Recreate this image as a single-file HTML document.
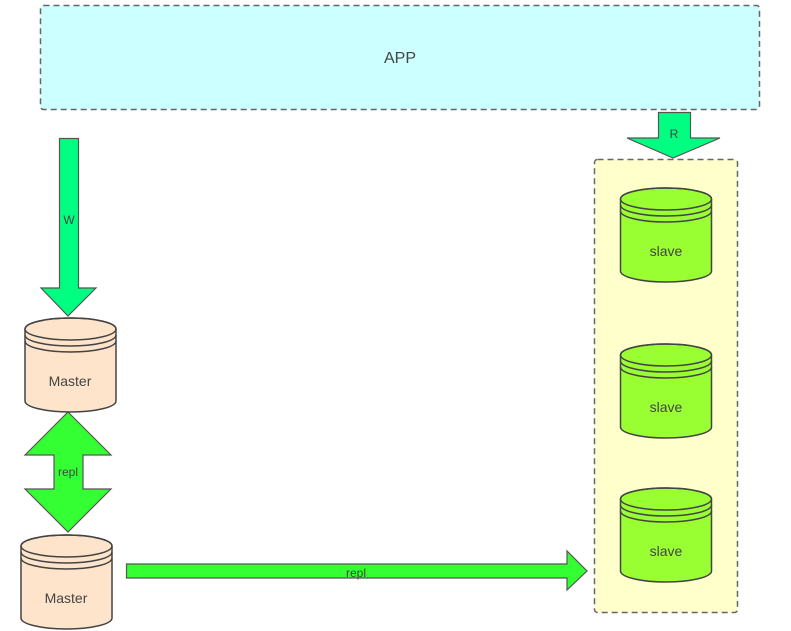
<!DOCTYPE html>
<html><head><meta charset="utf-8"><style>
html,body{margin:0;padding:0;background:#fff;width:791px;height:631px;overflow:hidden}
svg{display:block}
text{font-family:"Liberation Sans",sans-serif;fill:#444}
</style></head><body>
<svg width="791" height="631" viewBox="0 0 791 631" xmlns="http://www.w3.org/2000/svg">
<defs>
<g id="cyl">
<path d="M0,11 A45.5,11 0 0 1 91,11 V83 A45.5,11 0 0 1 0,83 Z" stroke="#444" stroke-width="1.5"/>
<ellipse cx="45.5" cy="11" rx="45.5" ry="11" stroke="#444" stroke-width="1.5" fill="none"/>
<path d="M0,17 A45.5,11 0 0 0 91,17 M0,23 A45.5,11 0 0 0 91,23" stroke="#444" stroke-width="1.5" fill="none"/>
</g>
</defs>
<rect x="40.5" y="5.5" width="719" height="104" rx="3" fill="#ccffff" stroke="#666" stroke-width="1.5" stroke-dasharray="6,4"/>
<text x="400" y="63" font-size="16" text-anchor="middle">APP</text>
<rect x="594.5" y="159.5" width="143" height="453" rx="3" fill="#ffffcc" stroke="#666" stroke-width="1.5" stroke-dasharray="6,4"/>
<!-- W arrow -->
<path d="M59.5,138.5 H78.5 V288 H96 L68,316 L41,288 H59.5 Z" fill="#00ff80" stroke="#555" stroke-width="1.2"/>
<text x="69" y="224" font-size="12" text-anchor="middle">W</text>
<!-- R arrow -->
<path d="M658.5,112.5 H690.5 V138 H720 L673,158 L627,138 H658.5 Z" fill="#00ff80" stroke="#555" stroke-width="1.2"/>
<text x="674" y="138" font-size="12" text-anchor="middle">R</text>
<!-- double arrow -->
<path d="M68,412 L111,455 H83 V489 H111 L68,532 L25,489 H54 V455 H25 Z" fill="#33ff33" stroke="#555" stroke-width="1.2"/>
<text x="68" y="476" font-size="12" text-anchor="middle">repl</text>
<!-- horizontal repl arrow -->
<path d="M126.5,564 H567 V551 L587,571 L567,590 V578 H126.5 Z" fill="#33ff33" stroke="#555" stroke-width="1.2"/>
<text x="356" y="577" font-size="12" text-anchor="middle">repl</text>
<!-- masters -->
<use href="#cyl" x="25" y="318" fill="#ffe4cc"/>
<text x="70" y="386" font-size="14" text-anchor="middle">Master</text>
<use href="#cyl" x="21" y="535" fill="#ffe4cc"/>
<text x="66" y="603" font-size="14" text-anchor="middle">Master</text>
<!-- slaves -->
<use href="#cyl" x="620.5" y="188" fill="#99ff33"/>
<text x="666" y="256" font-size="14" text-anchor="middle">slave</text>
<use href="#cyl" x="620.5" y="344" fill="#99ff33"/>
<text x="666" y="412" font-size="14" text-anchor="middle">slave</text>
<use href="#cyl" x="620.5" y="488" fill="#99ff33"/>
<text x="666" y="556" font-size="14" text-anchor="middle">slave</text>
</svg>
</body></html>
